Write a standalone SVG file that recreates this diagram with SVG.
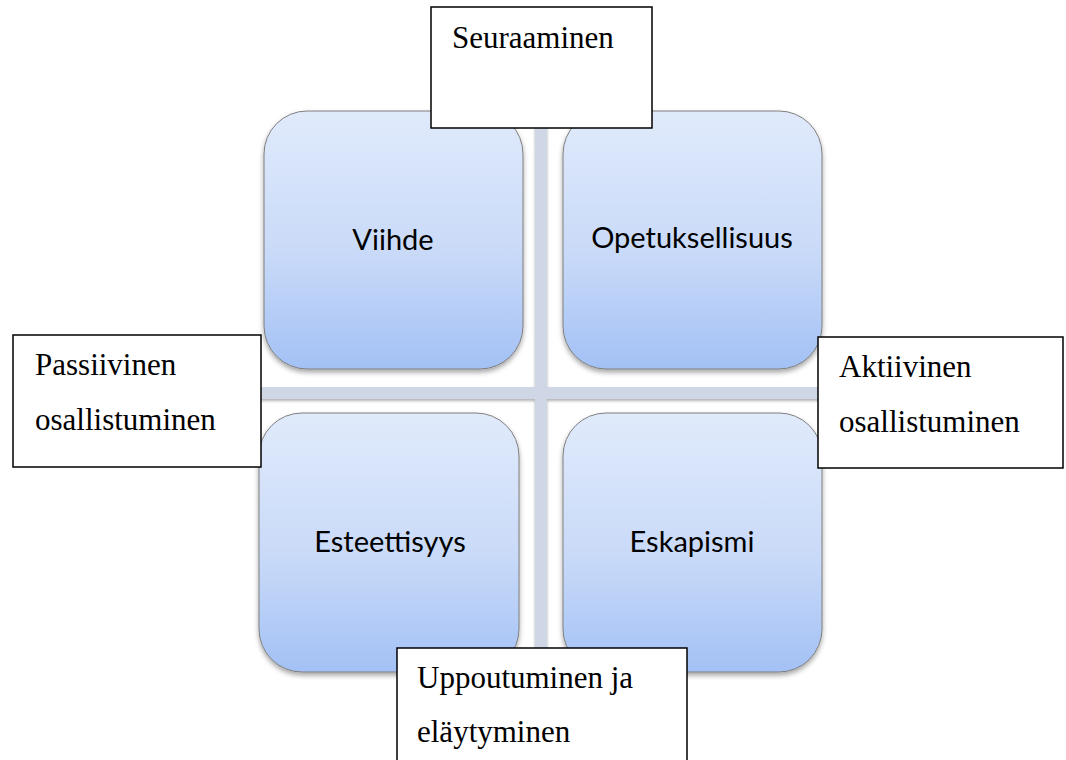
<svg xmlns="http://www.w3.org/2000/svg" width="1066" height="760" viewBox="0 0 1066 760">
  <defs>
    <linearGradient id="tileFill" x1="0" y1="0" x2="0" y2="1">
      <stop offset="0" stop-color="#e0eafb"/>
      <stop offset="0.55" stop-color="#c9daf8"/>
      <stop offset="1" stop-color="#a3c1f5"/>
    </linearGradient>
    <filter id="tileShadow" x="-10%" y="-10%" width="125%" height="125%">
      <feDropShadow dx="0" dy="3" stdDeviation="2.5" flood-color="#000" flood-opacity="0.35"/>
    </filter>
    <filter id="barShadow" x="-5%" y="-5%" width="110%" height="110%">
      <feDropShadow dx="0" dy="2" stdDeviation="1.5" flood-color="#000" flood-opacity="0.3"/>
    </filter>
  </defs>
  <style>
    .tile { fill: url(#tileFill); stroke: #7f7f7f; stroke-width: 1; filter: url(#tileShadow); }
    .tile-text { font-family: Lato, "Liberation Sans", sans-serif; font-size: 29px; fill: #000; text-anchor: middle; }
    .bar { fill: #cfd6e5; }
    .label-box { fill: #fff; stroke: #000; stroke-width: 1.5; }
    .label-text { font-family: "Liberation Serif", "Times New Roman", serif; font-size: 31px; fill: #000; }
  </style>

  <rect width="1066" height="760" fill="#fff"/>

  <!-- matrix cross -->
  <g id="connectors" filter="url(#barShadow)">
    <rect class="bar" x="535" y="111" width="12" height="561"/>
    <rect class="bar" x="259" y="387" width="563" height="12"/>
  </g>

  <!-- quadrant tiles -->
  <g id="tile-viihde">
    <rect class="tile" x="264" y="111" width="259" height="258" rx="43" ry="43"/>
    <text class="tile-text" x="393" y="250">Viihde</text>
  </g>
  <g id="tile-opetuksellisuus">
    <rect class="tile" x="563" y="111" width="259" height="258" rx="43" ry="43"/>
    <text class="tile-text" x="692" y="248">Opetuksellisuus</text>
  </g>
  <g id="tile-esteettisyys">
    <rect class="tile" x="259" y="413" width="260" height="259" rx="43" ry="43"/>
    <text class="tile-text" x="390" y="552">Esteettisyys</text>
  </g>
  <g id="tile-eskapismi">
    <rect class="tile" x="563" y="413" width="259" height="259" rx="43" ry="43"/>
    <text class="tile-text" x="692" y="552">Eskapismi</text>
  </g>

  <!-- axis labels -->
  <g id="label-seuraaminen">
    <rect class="label-box" x="431" y="7" width="221" height="121"/>
    <text class="label-text" x="452" y="48">Seuraaminen</text>
  </g>
  <g id="label-passiivinen">
    <rect class="label-box" x="13" y="335" width="248" height="132"/>
    <text class="label-text" x="35" y="375">Passiivinen</text>
    <text class="label-text" x="35" y="430">osallistuminen</text>
  </g>
  <g id="label-aktiivinen">
    <rect class="label-box" x="818" y="337" width="245" height="131"/>
    <text class="label-text" x="839" y="377">Aktiivinen</text>
    <text class="label-text" x="839" y="432">osallistuminen</text>
  </g>
  <g id="label-uppoutuminen">
    <rect class="label-box" x="397" y="648" width="290" height="130"/>
    <text class="label-text" x="417" y="688">Uppoutuminen ja</text>
    <text class="label-text" x="417" y="742">eläytyminen</text>
  </g>
</svg>
